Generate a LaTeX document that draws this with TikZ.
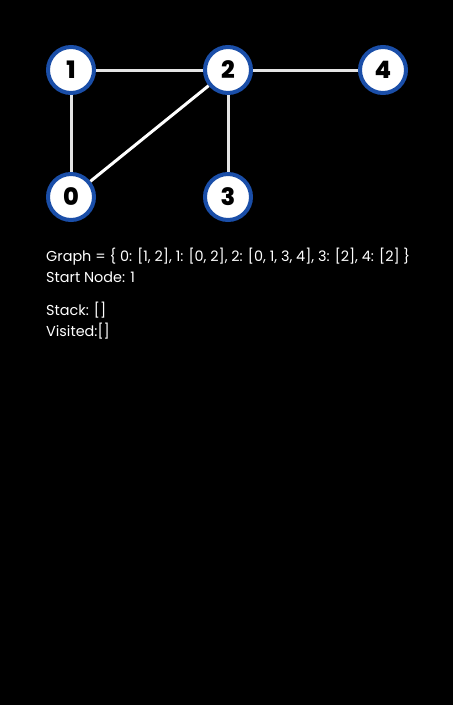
\documentclass[tikz,border=0pt]{standalone}
\usepackage{fontspec}
\setmainfont{Poppins}
\newfontfamily\heavyfont{Poppins ExtraBold}
\definecolor{ringblue}{HTML}{1A4EA8}
\definecolor{edgegray}{HTML}{E4E4E4}
\begin{document}
\begin{tikzpicture}[x=1pt,y=-1pt,
  vertex/.style={circle,draw=ringblue,line width=4pt,fill=white,minimum size=46pt,inner sep=0pt,font=\fontsize{24}{24}\selectfont\heavyfont},
  edge/.style={draw=edgegray,line width=3pt},
  info/.style={anchor=base west,text=white,inner sep=0pt,font=\fontsize{14.4}{18}\selectfont}]
  \fill[black] (0,0) rectangle (453,705);
  \useasboundingbox (0,0) rectangle (453,705);
  % vertices
  \node[vertex] (n1) at (71,70) {1};
  \node[vertex] (n2) at (228,70) {2};
  \node[vertex] (n4) at (383,70) {4};
  \node[vertex] (n0) at (71,197) {0};
  \node[vertex] (n3) at (228,197) {3};
  % edges
  \draw[edge] (n1) -- (n2);
  \draw[edge] (n2) -- (n4);
  \draw[edge] (n1) -- (n0);
  \draw[edge] (n2) -- (n3);
  \draw[edge,draw=white] (n0) -- (n2);
  % text
  \node[info] (g) at (46,261) {Graph = \{ 0: [1, 2], 1: [0, 2], 2: [0, 1, 3, 4], 3: [2], 4: [2] \}};
  \node[info] (s) at (46,282) {Start Node: 1};
  \node[info] (st) at (46,315) {Stack: []};
  \node[info] (v) at (46,336) {Visited:[]};
\end{tikzpicture}
\end{document}
